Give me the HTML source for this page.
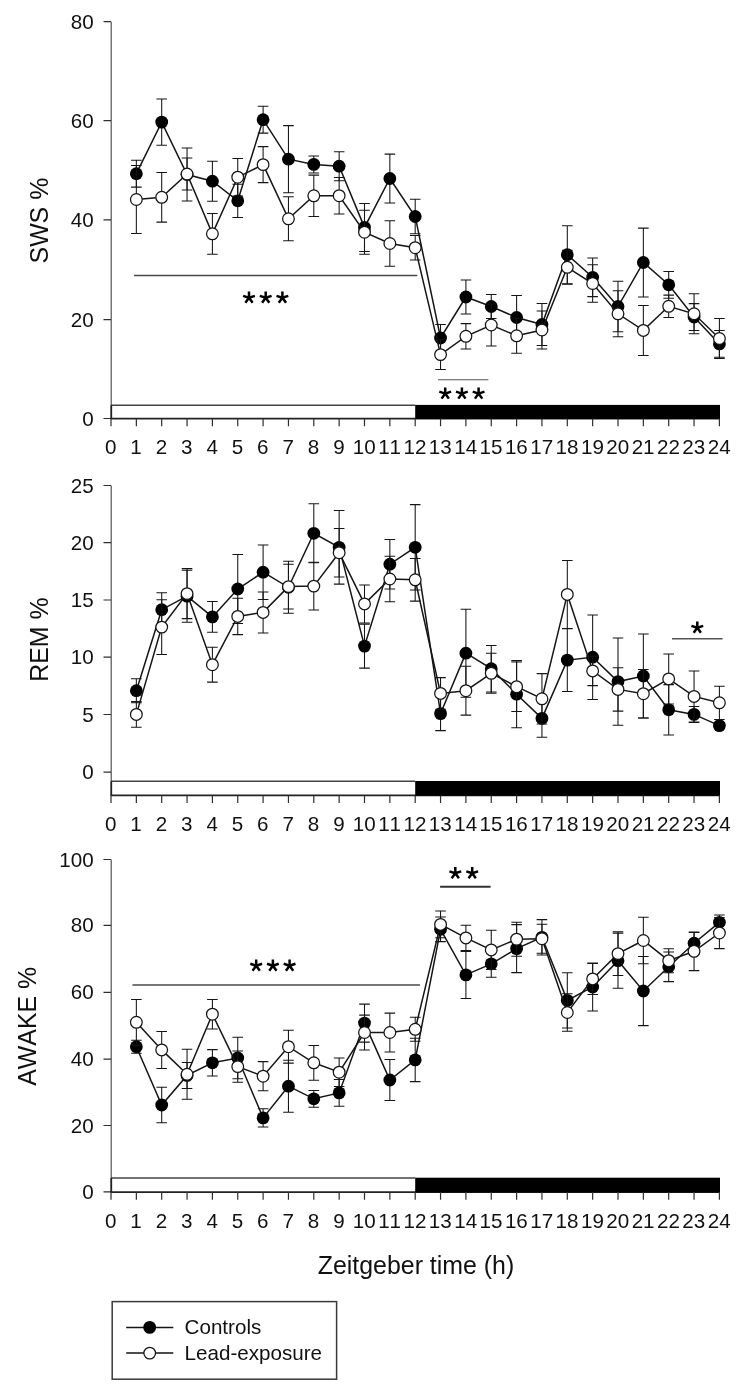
<!DOCTYPE html>
<html><head><meta charset="utf-8"><title>Sleep states across Zeitgeber time</title>
<style>
html,body{margin:0;padding:0;background:#fff}
body{width:745px;height:1397px;overflow:hidden}
svg{display:block;filter:grayscale(1)}
text{font-family:"Liberation Sans",sans-serif;fill:#111;font-kerning:none}
.t{font-size:20.6px}
.a{font-size:24.9px}
</style></head><body>
<svg width="745" height="1397" viewBox="0 0 745 1397">
<rect width="745" height="1397" fill="#fff"/>
<path d="M111.2 21.7V418.6" stroke="#444" stroke-width="1.1" fill="none"/>
<text x="93.6" y="28.7" text-anchor="end" class="t">80</text>
<text x="93.6" y="127.7" text-anchor="end" class="t">60</text>
<text x="93.6" y="226.9" text-anchor="end" class="t">40</text>
<text x="93.6" y="326.6" text-anchor="end" class="t">20</text>
<text x="93.6" y="425.5" text-anchor="end" class="t">0</text>
<path d="M103.5 21.7H111M103.5 120.7H111M103.5 219.9H111M103.5 319.6H111M103.5 418.5H111" stroke="#2e2e2e" stroke-width="1.2" fill="none"/>
<path d="M111 405.2H415.2" stroke="#444" stroke-width="1.4" fill="none"/>
<path d="M111.3 405.2V418.6" stroke="#222" stroke-width="1.7" fill="none"/>
<path d="M110.7 418.6H719.4" stroke="#222" stroke-width="1.8" fill="none"/>
<rect x="415.2" y="404.9" width="304.8" height="14.1" fill="#000"/>
<text x="110.75" y="454.4" text-anchor="middle" class="t">0</text>
<text x="136.1" y="454.4" text-anchor="middle" class="t">1</text>
<text x="161.45" y="454.4" text-anchor="middle" class="t">2</text>
<text x="186.8" y="454.4" text-anchor="middle" class="t">3</text>
<text x="212.15" y="454.4" text-anchor="middle" class="t">4</text>
<text x="237.5" y="454.4" text-anchor="middle" class="t">5</text>
<text x="262.85" y="454.4" text-anchor="middle" class="t">6</text>
<text x="288.2" y="454.4" text-anchor="middle" class="t">7</text>
<text x="313.55" y="454.4" text-anchor="middle" class="t">8</text>
<text x="338.9" y="454.4" text-anchor="middle" class="t">9</text>
<text x="364.25" y="454.4" text-anchor="middle" class="t">10</text>
<text x="389.6" y="454.4" text-anchor="middle" class="t">11</text>
<text x="414.95" y="454.4" text-anchor="middle" class="t">12</text>
<text x="440.3" y="454.4" text-anchor="middle" class="t">13</text>
<text x="465.65" y="454.4" text-anchor="middle" class="t">14</text>
<text x="491" y="454.4" text-anchor="middle" class="t">15</text>
<text x="516.35" y="454.4" text-anchor="middle" class="t">16</text>
<text x="541.7" y="454.4" text-anchor="middle" class="t">17</text>
<text x="567.05" y="454.4" text-anchor="middle" class="t">18</text>
<text x="592.4" y="454.4" text-anchor="middle" class="t">19</text>
<text x="617.75" y="454.4" text-anchor="middle" class="t">20</text>
<text x="643.1" y="454.4" text-anchor="middle" class="t">21</text>
<text x="668.45" y="454.4" text-anchor="middle" class="t">22</text>
<text x="693.8" y="454.4" text-anchor="middle" class="t">23</text>
<text x="719.15" y="454.4" text-anchor="middle" class="t">24</text>
<path d="M111 418.6V426.2M136.35 418.6V426.2M161.7 418.6V426.2M187.05 418.6V426.2M212.4 418.6V426.2M237.75 418.6V426.2M263.1 418.6V426.2M288.45 418.6V426.2M313.8 418.6V426.2M339.15 418.6V426.2M364.5 418.6V426.2M389.85 418.6V426.2M415.2 418.6V426.2M440.55 418.6V426.2M465.9 418.6V426.2M491.25 418.6V426.2M516.6 418.6V426.2M541.95 418.6V426.2M567.3 418.6V426.2M592.65 418.6V426.2M618 418.6V426.2M643.35 418.6V426.2M668.7 418.6V426.2M694.05 418.6V426.2M719.4 418.6V426.2" stroke="#2e2e2e" stroke-width="1.2" fill="none"/>
<text transform="translate(47.6 220.6) rotate(-90)" text-anchor="middle" class="a">SWS %</text>
<path d="M136.35 160.3V187.1M131.05 160.3H141.65M131.05 187.1H141.65M161.7 98.9V145.3M156.4 98.9H167M156.4 145.3H167M187.05 148V201M181.75 148H192.35M181.75 201H192.35M212.4 161.2V201.2M207.1 161.2H217.7M207.1 201.2H217.7M237.75 184.2V217.4M232.45 184.2H243.05M232.45 217.4H243.05M263.1 106.3V133.1M257.8 106.3H268.4M257.8 133.1H268.4M288.45 125.6V192.8M283.15 125.6H293.75M283.15 192.8H293.75M313.8 155.9V172.9M308.5 155.9H319.1M308.5 172.9H319.1M339.15 151.7V180.7M333.85 151.7H344.45M333.85 180.7H344.45M364.5 203.4V251.4M359.2 203.4H369.8M359.2 251.4H369.8M389.85 154.1V202.9M384.55 154.1H395.15M384.55 202.9H395.15M415.2 199.3V233.7M409.9 199.3H420.5M409.9 233.7H420.5M440.55 324.5V351.5M435.25 324.5H445.85M435.25 351.5H445.85M465.9 280V314M460.6 280H471.2M460.6 314H471.2M491.25 294.5V318.5M485.95 294.5H496.55M485.95 318.5H496.55M516.6 295.5V339.5M511.3 295.5H521.9M511.3 339.5H521.9M541.95 303.5V345.5M536.65 303.5H547.25M536.65 345.5H547.25M567.3 225.7V283.7M562 225.7H572.6M562 283.7H572.6M592.65 258V296.6M587.35 258H597.95M587.35 296.6H597.95M618 281.2V331.8M612.7 281.2H623.3M612.7 331.8H623.3M643.35 228.1V296.9M638.05 228.1H648.65M638.05 296.9H648.65M668.7 271.4V298.2M663.4 271.4H674M663.4 298.2H674M694.05 303.6V330.4M688.75 303.6H699.35M688.75 330.4H699.35M719.4 330.5V357.3M714.1 330.5H724.7M714.1 357.3H724.7" fill="none" stroke="#151515" stroke-width="1.05"/>
<polyline points="136.35,173.7 161.7,122.1 187.05,174.5 212.4,181.2 237.75,200.8 263.1,119.7 288.45,159.2 313.8,164.4 339.15,166.2 364.5,227.4 389.85,178.5 415.2,216.5 440.55,338 465.9,297 491.25,306.5 516.6,317.5 541.95,324.5 567.3,254.7 592.65,277.3 618,306.5 643.35,262.5 668.7,284.8 694.05,317 719.4,343.9" fill="none" stroke="#151515" stroke-width="1.5"/>
<circle cx="136.35" cy="173.7" r="6.4" fill="#000"/>
<circle cx="161.7" cy="122.1" r="6.4" fill="#000"/>
<circle cx="187.05" cy="174.5" r="6.4" fill="#000"/>
<circle cx="212.4" cy="181.2" r="6.4" fill="#000"/>
<circle cx="237.75" cy="200.8" r="6.4" fill="#000"/>
<circle cx="263.1" cy="119.7" r="6.4" fill="#000"/>
<circle cx="288.45" cy="159.2" r="6.4" fill="#000"/>
<circle cx="313.8" cy="164.4" r="6.4" fill="#000"/>
<circle cx="339.15" cy="166.2" r="6.4" fill="#000"/>
<circle cx="364.5" cy="227.4" r="6.4" fill="#000"/>
<circle cx="389.85" cy="178.5" r="6.4" fill="#000"/>
<circle cx="415.2" cy="216.5" r="6.4" fill="#000"/>
<circle cx="440.55" cy="338" r="6.4" fill="#000"/>
<circle cx="465.9" cy="297" r="6.4" fill="#000"/>
<circle cx="491.25" cy="306.5" r="6.4" fill="#000"/>
<circle cx="516.6" cy="317.5" r="6.4" fill="#000"/>
<circle cx="541.95" cy="324.5" r="6.4" fill="#000"/>
<circle cx="567.3" cy="254.7" r="6.4" fill="#000"/>
<circle cx="592.65" cy="277.3" r="6.4" fill="#000"/>
<circle cx="618" cy="306.5" r="6.4" fill="#000"/>
<circle cx="643.35" cy="262.5" r="6.4" fill="#000"/>
<circle cx="668.7" cy="284.8" r="6.4" fill="#000"/>
<circle cx="694.05" cy="317" r="6.4" fill="#000"/>
<circle cx="719.4" cy="343.9" r="6.4" fill="#000"/>
<path d="M136.35 165.5V233.5M131.05 165.5H141.65M131.05 233.5H141.65M161.7 172.5V222.1M156.4 172.5H167M156.4 222.1H167M187.05 158V190M181.75 158H192.35M181.75 190H192.35M212.4 213.4V254.2M207.1 213.4H217.7M207.1 254.2H217.7M237.75 158.4V196M232.45 158.4H243.05M232.45 196H243.05M263.1 146.6V182.6M257.8 146.6H268.4M257.8 182.6H268.4M288.45 196.8V240.8M283.15 196.8H293.75M283.15 240.8H293.75M313.8 175.1V216.5M308.5 175.1H319.1M308.5 216.5H319.1M339.15 177.4V214M333.85 177.4H344.45M333.85 214H344.45M364.5 210.2V254.2M359.2 210.2H369.8M359.2 254.2H369.8M389.85 220.7V266.3M384.55 220.7H395.15M384.55 266.3H395.15M415.2 235.4V260M409.9 235.4H420.5M409.9 260H420.5M440.55 339.8V369.4M435.25 339.8H445.85M435.25 369.4H445.85M465.9 323.6V349M460.6 323.6H471.2M460.6 349H471.2M491.25 304V346M485.95 304H496.55M485.95 346H496.55M516.6 318.3V353.3M511.3 318.3H521.9M511.3 353.3H521.9M541.95 311V349M536.65 311H547.25M536.65 349H547.25M567.3 250.3V284.3M562 250.3H572.6M562 284.3H572.6M592.65 264.7V302.3M587.35 264.7H597.95M587.35 302.3H597.95M618 290.8V336.8M612.7 290.8H623.3M612.7 336.8H623.3M643.35 305.4V355.4M638.05 305.4H648.65M638.05 355.4H648.65M668.7 295.1V317.5M663.4 295.1H674M663.4 317.5H674M694.05 293.8V333.8M688.75 293.8H699.35M688.75 333.8H699.35M719.4 318.5V358.5M714.1 318.5H724.7M714.1 358.5H724.7" fill="none" stroke="#151515" stroke-width="1.05"/>
<polyline points="136.35,199.5 161.7,197.3 187.05,174 212.4,233.8 237.75,177.2 263.1,164.6 288.45,218.8 313.8,195.8 339.15,195.7 364.5,232.2 389.85,243.5 415.2,247.7 440.55,354.6 465.9,336.3 491.25,325 516.6,335.8 541.95,330 567.3,267.3 592.65,283.5 618,313.8 643.35,330.4 668.7,306.3 694.05,313.8 719.4,338.5" fill="none" stroke="#151515" stroke-width="1.5"/>
<circle cx="136.35" cy="199.5" r="5.85" fill="#fff" stroke="#151515" stroke-width="1.25"/>
<circle cx="161.7" cy="197.3" r="5.85" fill="#fff" stroke="#151515" stroke-width="1.25"/>
<circle cx="187.05" cy="174" r="5.85" fill="#fff" stroke="#151515" stroke-width="1.25"/>
<circle cx="212.4" cy="233.8" r="5.85" fill="#fff" stroke="#151515" stroke-width="1.25"/>
<circle cx="237.75" cy="177.2" r="5.85" fill="#fff" stroke="#151515" stroke-width="1.25"/>
<circle cx="263.1" cy="164.6" r="5.85" fill="#fff" stroke="#151515" stroke-width="1.25"/>
<circle cx="288.45" cy="218.8" r="5.85" fill="#fff" stroke="#151515" stroke-width="1.25"/>
<circle cx="313.8" cy="195.8" r="5.85" fill="#fff" stroke="#151515" stroke-width="1.25"/>
<circle cx="339.15" cy="195.7" r="5.85" fill="#fff" stroke="#151515" stroke-width="1.25"/>
<circle cx="364.5" cy="232.2" r="5.85" fill="#fff" stroke="#151515" stroke-width="1.25"/>
<circle cx="389.85" cy="243.5" r="5.85" fill="#fff" stroke="#151515" stroke-width="1.25"/>
<circle cx="415.2" cy="247.7" r="5.85" fill="#fff" stroke="#151515" stroke-width="1.25"/>
<circle cx="440.55" cy="354.6" r="5.85" fill="#fff" stroke="#151515" stroke-width="1.25"/>
<circle cx="465.9" cy="336.3" r="5.85" fill="#fff" stroke="#151515" stroke-width="1.25"/>
<circle cx="491.25" cy="325" r="5.85" fill="#fff" stroke="#151515" stroke-width="1.25"/>
<circle cx="516.6" cy="335.8" r="5.85" fill="#fff" stroke="#151515" stroke-width="1.25"/>
<circle cx="541.95" cy="330" r="5.85" fill="#fff" stroke="#151515" stroke-width="1.25"/>
<circle cx="567.3" cy="267.3" r="5.85" fill="#fff" stroke="#151515" stroke-width="1.25"/>
<circle cx="592.65" cy="283.5" r="5.85" fill="#fff" stroke="#151515" stroke-width="1.25"/>
<circle cx="618" cy="313.8" r="5.85" fill="#fff" stroke="#151515" stroke-width="1.25"/>
<circle cx="643.35" cy="330.4" r="5.85" fill="#fff" stroke="#151515" stroke-width="1.25"/>
<circle cx="668.7" cy="306.3" r="5.85" fill="#fff" stroke="#151515" stroke-width="1.25"/>
<circle cx="694.05" cy="313.8" r="5.85" fill="#fff" stroke="#151515" stroke-width="1.25"/>
<circle cx="719.4" cy="338.5" r="5.85" fill="#fff" stroke="#151515" stroke-width="1.25"/>
<path d="M111.2 485.5V795.4" stroke="#444" stroke-width="1.1" fill="none"/>
<text x="93.6" y="492.5" text-anchor="end" class="t">25</text>
<text x="93.6" y="549.7" text-anchor="end" class="t">20</text>
<text x="93.6" y="607" text-anchor="end" class="t">15</text>
<text x="93.6" y="664.2" text-anchor="end" class="t">10</text>
<text x="93.6" y="721.5" text-anchor="end" class="t">5</text>
<text x="93.6" y="779.2" text-anchor="end" class="t">0</text>
<path d="M103.5 485.5H111M103.5 542.7H111M103.5 600H111M103.5 657.2H111M103.5 714.5H111M103.5 772.2H111" stroke="#2e2e2e" stroke-width="1.2" fill="none"/>
<path d="M111 781.3H415.2" stroke="#444" stroke-width="1.4" fill="none"/>
<path d="M111.3 781.3V795.4" stroke="#222" stroke-width="1.7" fill="none"/>
<path d="M110.7 795.4H719.4" stroke="#222" stroke-width="1.8" fill="none"/>
<rect x="415.2" y="781" width="304.8" height="14.8" fill="#000"/>
<text x="110.75" y="831.2" text-anchor="middle" class="t">0</text>
<text x="136.1" y="831.2" text-anchor="middle" class="t">1</text>
<text x="161.45" y="831.2" text-anchor="middle" class="t">2</text>
<text x="186.8" y="831.2" text-anchor="middle" class="t">3</text>
<text x="212.15" y="831.2" text-anchor="middle" class="t">4</text>
<text x="237.5" y="831.2" text-anchor="middle" class="t">5</text>
<text x="262.85" y="831.2" text-anchor="middle" class="t">6</text>
<text x="288.2" y="831.2" text-anchor="middle" class="t">7</text>
<text x="313.55" y="831.2" text-anchor="middle" class="t">8</text>
<text x="338.9" y="831.2" text-anchor="middle" class="t">9</text>
<text x="364.25" y="831.2" text-anchor="middle" class="t">10</text>
<text x="389.6" y="831.2" text-anchor="middle" class="t">11</text>
<text x="414.95" y="831.2" text-anchor="middle" class="t">12</text>
<text x="440.3" y="831.2" text-anchor="middle" class="t">13</text>
<text x="465.65" y="831.2" text-anchor="middle" class="t">14</text>
<text x="491" y="831.2" text-anchor="middle" class="t">15</text>
<text x="516.35" y="831.2" text-anchor="middle" class="t">16</text>
<text x="541.7" y="831.2" text-anchor="middle" class="t">17</text>
<text x="567.05" y="831.2" text-anchor="middle" class="t">18</text>
<text x="592.4" y="831.2" text-anchor="middle" class="t">19</text>
<text x="617.75" y="831.2" text-anchor="middle" class="t">20</text>
<text x="643.1" y="831.2" text-anchor="middle" class="t">21</text>
<text x="668.45" y="831.2" text-anchor="middle" class="t">22</text>
<text x="693.8" y="831.2" text-anchor="middle" class="t">23</text>
<text x="719.15" y="831.2" text-anchor="middle" class="t">24</text>
<path d="M111 795.4V803M136.35 795.4V803M161.7 795.4V803M187.05 795.4V803M212.4 795.4V803M237.75 795.4V803M263.1 795.4V803M288.45 795.4V803M313.8 795.4V803M339.15 795.4V803M364.5 795.4V803M389.85 795.4V803M415.2 795.4V803M440.55 795.4V803M465.9 795.4V803M491.25 795.4V803M516.6 795.4V803M541.95 795.4V803M567.3 795.4V803M592.65 795.4V803M618 795.4V803M643.35 795.4V803M668.7 795.4V803M694.05 795.4V803M719.4 795.4V803" stroke="#2e2e2e" stroke-width="1.2" fill="none"/>
<text transform="translate(47.6 639.6) rotate(-90)" text-anchor="middle" class="a">REM %</text>
<path d="M136.35 678.7V702.7M131.05 678.7H141.65M131.05 702.7H141.65M161.7 592.7V626.7M156.4 592.7H167M156.4 626.7H167M187.05 570.2V622.2M181.75 570.2H192.35M181.75 622.2H192.35M212.4 601.5V632.3M207.1 601.5H217.7M207.1 632.3H217.7M237.75 554.5V623.5M232.45 554.5H243.05M232.45 623.5H243.05M263.1 544.9V599.5M257.8 544.9H268.4M257.8 599.5H268.4M288.45 561.3V613.3M283.15 561.3H293.75M283.15 613.3H293.75M313.8 503.8V562.8M308.5 503.8H319.1M308.5 562.8H319.1M339.15 510.5V584.1M333.85 510.5H344.45M333.85 584.1H344.45M364.5 624.1V668.1M359.2 624.1H369.8M359.2 668.1H369.8M389.85 539.5V588.9M384.55 539.5H395.15M384.55 588.9H395.15M415.2 504.6V590M409.9 504.6H420.5M409.9 590H420.5M440.55 696.6V730.6M435.25 696.6H445.85M435.25 730.6H445.85M465.9 609.2V697.2M460.6 609.2H471.2M460.6 697.2H471.2M491.25 645.4V692M485.95 645.4H496.55M485.95 692H496.55M516.6 660.6V727.8M511.3 660.6H521.9M511.3 727.8H521.9M541.95 699.6V737.2M536.65 699.6H547.25M536.65 737.2H547.25M567.3 628.7V691.5M562 628.7H572.6M562 691.5H572.6M592.65 615V699.4M587.35 615H597.95M587.35 699.4H597.95M618 637.9V725.3M612.7 637.9H623.3M612.7 725.3H623.3M643.35 634V718M638.05 634H648.65M638.05 718H648.65M668.7 684.6V735M663.4 684.6H674M663.4 735H674M694.05 706.4V722.4M688.75 706.4H699.35M688.75 722.4H699.35M719.4 722.6V728.6M714.1 722.6H724.7M714.1 728.6H724.7" fill="none" stroke="#151515" stroke-width="1.05"/>
<polyline points="136.35,690.7 161.7,609.7 187.05,596.2 212.4,616.9 237.75,589 263.1,572.2 288.45,587.3 313.8,533.3 339.15,547.3 364.5,646.1 389.85,564.2 415.2,547.3 440.55,713.6 465.9,653.2 491.25,668.7 516.6,694.2 541.95,718.4 567.3,660.1 592.65,657.2 618,681.6 643.35,676 668.7,709.8 694.05,714.4 719.4,725.6" fill="none" stroke="#151515" stroke-width="1.5"/>
<circle cx="136.35" cy="690.7" r="6.4" fill="#000"/>
<circle cx="161.7" cy="609.7" r="6.4" fill="#000"/>
<circle cx="187.05" cy="596.2" r="6.4" fill="#000"/>
<circle cx="212.4" cy="616.9" r="6.4" fill="#000"/>
<circle cx="237.75" cy="589" r="6.4" fill="#000"/>
<circle cx="263.1" cy="572.2" r="6.4" fill="#000"/>
<circle cx="288.45" cy="587.3" r="6.4" fill="#000"/>
<circle cx="313.8" cy="533.3" r="6.4" fill="#000"/>
<circle cx="339.15" cy="547.3" r="6.4" fill="#000"/>
<circle cx="364.5" cy="646.1" r="6.4" fill="#000"/>
<circle cx="389.85" cy="564.2" r="6.4" fill="#000"/>
<circle cx="415.2" cy="547.3" r="6.4" fill="#000"/>
<circle cx="440.55" cy="713.6" r="6.4" fill="#000"/>
<circle cx="465.9" cy="653.2" r="6.4" fill="#000"/>
<circle cx="491.25" cy="668.7" r="6.4" fill="#000"/>
<circle cx="516.6" cy="694.2" r="6.4" fill="#000"/>
<circle cx="541.95" cy="718.4" r="6.4" fill="#000"/>
<circle cx="567.3" cy="660.1" r="6.4" fill="#000"/>
<circle cx="592.65" cy="657.2" r="6.4" fill="#000"/>
<circle cx="618" cy="681.6" r="6.4" fill="#000"/>
<circle cx="643.35" cy="676" r="6.4" fill="#000"/>
<circle cx="668.7" cy="709.8" r="6.4" fill="#000"/>
<circle cx="694.05" cy="714.4" r="6.4" fill="#000"/>
<circle cx="719.4" cy="725.6" r="6.4" fill="#000"/>
<path d="M136.35 701.6V727.2M131.05 701.6H141.65M131.05 727.2H141.65M161.7 599.7V654.5M156.4 599.7H167M156.4 654.5H167M187.05 568.6V618.6M181.75 568.6H192.35M181.75 618.6H192.35M212.4 647.3V682.1M207.1 647.3H217.7M207.1 682.1H217.7M237.75 598.2V634.6M232.45 598.2H243.05M232.45 634.6H243.05M263.1 591.9V632.9M257.8 591.9H268.4M257.8 632.9H268.4M288.45 564.3V608.9M283.15 564.3H293.75M283.15 608.9H293.75M313.8 562.2V610M308.5 562.2H319.1M308.5 610H319.1M339.15 528.5V576.9M333.85 528.5H344.45M333.85 576.9H344.45M364.5 584.9V622.9M359.2 584.9H369.8M359.2 622.9H369.8M389.85 556.2V601.8M384.55 556.2H395.15M384.55 601.8H395.15M415.2 558.5V601.1M409.9 558.5H420.5M409.9 601.1H420.5M440.55 677.6V709.2M435.25 677.6H445.85M435.25 709.2H445.85M465.9 666.3V715.1M460.6 666.3H471.2M460.6 715.1H471.2M491.25 653.3V693.3M485.95 653.3H496.55M485.95 693.3H496.55M516.6 662V711.4M511.3 662H521.9M511.3 711.4H521.9M541.95 673.6V724M536.65 673.6H547.25M536.65 724H547.25M567.3 560.4V628.4M562 560.4H572.6M562 628.4H572.6M592.65 656.2V685.6M587.35 656.2H597.95M587.35 685.6H597.95M618 667.7V711.1M612.7 667.7H623.3M612.7 711.1H623.3M643.35 669.5V717.9M638.05 669.5H648.65M638.05 717.9H648.65M668.7 653.9V703.9M663.4 653.9H674M663.4 703.9H674M694.05 670.9V721.9M688.75 670.9H699.35M688.75 721.9H699.35M719.4 686.2V719.4M714.1 686.2H724.7M714.1 719.4H724.7" fill="none" stroke="#151515" stroke-width="1.05"/>
<polyline points="136.35,714.4 161.7,627.1 187.05,593.6 212.4,664.7 237.75,616.4 263.1,612.4 288.45,586.6 313.8,586.1 339.15,552.7 364.5,603.9 389.85,579 415.2,579.8 440.55,693.4 465.9,690.7 491.25,673.3 516.6,686.7 541.95,698.8 567.3,594.4 592.65,670.9 618,689.4 643.35,693.7 668.7,678.9 694.05,696.4 719.4,702.8" fill="none" stroke="#151515" stroke-width="1.5"/>
<circle cx="136.35" cy="714.4" r="5.85" fill="#fff" stroke="#151515" stroke-width="1.25"/>
<circle cx="161.7" cy="627.1" r="5.85" fill="#fff" stroke="#151515" stroke-width="1.25"/>
<circle cx="187.05" cy="593.6" r="5.85" fill="#fff" stroke="#151515" stroke-width="1.25"/>
<circle cx="212.4" cy="664.7" r="5.85" fill="#fff" stroke="#151515" stroke-width="1.25"/>
<circle cx="237.75" cy="616.4" r="5.85" fill="#fff" stroke="#151515" stroke-width="1.25"/>
<circle cx="263.1" cy="612.4" r="5.85" fill="#fff" stroke="#151515" stroke-width="1.25"/>
<circle cx="288.45" cy="586.6" r="5.85" fill="#fff" stroke="#151515" stroke-width="1.25"/>
<circle cx="313.8" cy="586.1" r="5.85" fill="#fff" stroke="#151515" stroke-width="1.25"/>
<circle cx="339.15" cy="552.7" r="5.85" fill="#fff" stroke="#151515" stroke-width="1.25"/>
<circle cx="364.5" cy="603.9" r="5.85" fill="#fff" stroke="#151515" stroke-width="1.25"/>
<circle cx="389.85" cy="579" r="5.85" fill="#fff" stroke="#151515" stroke-width="1.25"/>
<circle cx="415.2" cy="579.8" r="5.85" fill="#fff" stroke="#151515" stroke-width="1.25"/>
<circle cx="440.55" cy="693.4" r="5.85" fill="#fff" stroke="#151515" stroke-width="1.25"/>
<circle cx="465.9" cy="690.7" r="5.85" fill="#fff" stroke="#151515" stroke-width="1.25"/>
<circle cx="491.25" cy="673.3" r="5.85" fill="#fff" stroke="#151515" stroke-width="1.25"/>
<circle cx="516.6" cy="686.7" r="5.85" fill="#fff" stroke="#151515" stroke-width="1.25"/>
<circle cx="541.95" cy="698.8" r="5.85" fill="#fff" stroke="#151515" stroke-width="1.25"/>
<circle cx="567.3" cy="594.4" r="5.85" fill="#fff" stroke="#151515" stroke-width="1.25"/>
<circle cx="592.65" cy="670.9" r="5.85" fill="#fff" stroke="#151515" stroke-width="1.25"/>
<circle cx="618" cy="689.4" r="5.85" fill="#fff" stroke="#151515" stroke-width="1.25"/>
<circle cx="643.35" cy="693.7" r="5.85" fill="#fff" stroke="#151515" stroke-width="1.25"/>
<circle cx="668.7" cy="678.9" r="5.85" fill="#fff" stroke="#151515" stroke-width="1.25"/>
<circle cx="694.05" cy="696.4" r="5.85" fill="#fff" stroke="#151515" stroke-width="1.25"/>
<circle cx="719.4" cy="702.8" r="5.85" fill="#fff" stroke="#151515" stroke-width="1.25"/>
<path d="M111.2 859.5V1192.1" stroke="#444" stroke-width="1.1" fill="none"/>
<text x="93.6" y="866.5" text-anchor="end" class="t">100</text>
<text x="93.6" y="932.4" text-anchor="end" class="t">80</text>
<text x="93.6" y="999.3" text-anchor="end" class="t">60</text>
<text x="93.6" y="1066.1" text-anchor="end" class="t">40</text>
<text x="93.6" y="1132.5" text-anchor="end" class="t">20</text>
<text x="93.6" y="1198.9" text-anchor="end" class="t">0</text>
<path d="M103.5 859.5H111M103.5 925.4H111M103.5 992.3H111M103.5 1059.1H111M103.5 1125.5H111M103.5 1191.9H111" stroke="#2e2e2e" stroke-width="1.2" fill="none"/>
<path d="M111 1178H415.2" stroke="#444" stroke-width="1.4" fill="none"/>
<path d="M111.3 1178V1192.1" stroke="#222" stroke-width="1.7" fill="none"/>
<path d="M110.7 1192.1H719.4" stroke="#222" stroke-width="1.8" fill="none"/>
<rect x="415.2" y="1177.7" width="304.8" height="14.8" fill="#000"/>
<text x="110.75" y="1227.9" text-anchor="middle" class="t">0</text>
<text x="136.1" y="1227.9" text-anchor="middle" class="t">1</text>
<text x="161.45" y="1227.9" text-anchor="middle" class="t">2</text>
<text x="186.8" y="1227.9" text-anchor="middle" class="t">3</text>
<text x="212.15" y="1227.9" text-anchor="middle" class="t">4</text>
<text x="237.5" y="1227.9" text-anchor="middle" class="t">5</text>
<text x="262.85" y="1227.9" text-anchor="middle" class="t">6</text>
<text x="288.2" y="1227.9" text-anchor="middle" class="t">7</text>
<text x="313.55" y="1227.9" text-anchor="middle" class="t">8</text>
<text x="338.9" y="1227.9" text-anchor="middle" class="t">9</text>
<text x="364.25" y="1227.9" text-anchor="middle" class="t">10</text>
<text x="389.6" y="1227.9" text-anchor="middle" class="t">11</text>
<text x="414.95" y="1227.9" text-anchor="middle" class="t">12</text>
<text x="440.3" y="1227.9" text-anchor="middle" class="t">13</text>
<text x="465.65" y="1227.9" text-anchor="middle" class="t">14</text>
<text x="491" y="1227.9" text-anchor="middle" class="t">15</text>
<text x="516.35" y="1227.9" text-anchor="middle" class="t">16</text>
<text x="541.7" y="1227.9" text-anchor="middle" class="t">17</text>
<text x="567.05" y="1227.9" text-anchor="middle" class="t">18</text>
<text x="592.4" y="1227.9" text-anchor="middle" class="t">19</text>
<text x="617.75" y="1227.9" text-anchor="middle" class="t">20</text>
<text x="643.1" y="1227.9" text-anchor="middle" class="t">21</text>
<text x="668.45" y="1227.9" text-anchor="middle" class="t">22</text>
<text x="693.8" y="1227.9" text-anchor="middle" class="t">23</text>
<text x="719.15" y="1227.9" text-anchor="middle" class="t">24</text>
<path d="M111 1192.1V1199.7M136.35 1192.1V1199.7M161.7 1192.1V1199.7M187.05 1192.1V1199.7M212.4 1192.1V1199.7M237.75 1192.1V1199.7M263.1 1192.1V1199.7M288.45 1192.1V1199.7M313.8 1192.1V1199.7M339.15 1192.1V1199.7M364.5 1192.1V1199.7M389.85 1192.1V1199.7M415.2 1192.1V1199.7M440.55 1192.1V1199.7M465.9 1192.1V1199.7M491.25 1192.1V1199.7M516.6 1192.1V1199.7M541.95 1192.1V1199.7M567.3 1192.1V1199.7M592.65 1192.1V1199.7M618 1192.1V1199.7M643.35 1192.1V1199.7M668.7 1192.1V1199.7M694.05 1192.1V1199.7M719.4 1192.1V1199.7" stroke="#2e2e2e" stroke-width="1.2" fill="none"/>
<text transform="translate(36.2 1026.3) rotate(-90)" text-anchor="middle" class="a">AWAKE %</text>
<path d="M136.35 1040.2V1053.2M131.05 1040.2H141.65M131.05 1053.2H141.65M161.7 1087.3V1122.7M156.4 1087.3H167M156.4 1122.7H167M187.05 1062.4V1088.4M181.75 1062.4H192.35M181.75 1088.4H192.35M212.4 1049.6V1076M207.1 1049.6H217.7M207.1 1076H217.7M237.75 1037.3V1078.7M232.45 1037.3H243.05M232.45 1078.7H243.05M263.1 1108.8V1127M257.8 1108.8H268.4M257.8 1127H268.4M288.45 1060.2V1112.2M283.15 1060.2H293.75M283.15 1112.2H293.75M313.8 1090.4V1107.2M308.5 1090.4H319.1M308.5 1107.2H319.1M339.15 1079.5V1106.3M333.85 1079.5H344.45M333.85 1106.3H344.45M364.5 1004.1V1042.1M359.2 1004.1H369.8M359.2 1042.1H369.8M389.85 1059.5V1100.5M384.55 1059.5H395.15M384.55 1100.5H395.15M415.2 1038.2V1081.6M409.9 1038.2H420.5M409.9 1081.6H420.5M440.55 917V941.6M435.25 917H445.85M435.25 941.6H445.85M465.9 951.4V998.4M460.6 951.4H471.2M460.6 998.4H471.2M491.25 950.5V977.3M485.95 950.5H496.55M485.95 977.3H496.55M516.6 924.6V972.6M511.3 924.6H521.9M511.3 972.6H521.9M541.95 919.6V955M536.65 919.6H547.25M536.65 955H547.25M567.3 972.8V1028M562 972.8H572.6M562 1028H572.6M592.65 963V1011M587.35 963H597.95M587.35 1011H597.95M618 933.1V988.3M612.7 933.1H623.3M612.7 988.3H623.3M643.35 956.4V1025.6M638.05 956.4H648.65M638.05 1025.6H648.65M668.7 952V981.6M663.4 952H674M663.4 981.6H674M694.05 932.5V953.9M688.75 932.5H699.35M688.75 953.9H699.35M719.4 915V929.6M714.1 915H724.7M714.1 929.6H724.7" fill="none" stroke="#151515" stroke-width="1.05"/>
<polyline points="136.35,1046.7 161.7,1105 187.05,1075.4 212.4,1062.8 237.75,1058 263.1,1117.9 288.45,1086.2 313.8,1098.8 339.15,1092.9 364.5,1023.1 389.85,1080 415.2,1059.9 440.55,929.3 465.9,974.9 491.25,963.9 516.6,948.6 541.95,937.3 567.3,1000.4 592.65,987 618,960.7 643.35,991 668.7,966.8 694.05,943.2 719.4,922.3" fill="none" stroke="#151515" stroke-width="1.5"/>
<circle cx="136.35" cy="1046.7" r="6.4" fill="#000"/>
<circle cx="161.7" cy="1105" r="6.4" fill="#000"/>
<circle cx="187.05" cy="1075.4" r="6.4" fill="#000"/>
<circle cx="212.4" cy="1062.8" r="6.4" fill="#000"/>
<circle cx="237.75" cy="1058" r="6.4" fill="#000"/>
<circle cx="263.1" cy="1117.9" r="6.4" fill="#000"/>
<circle cx="288.45" cy="1086.2" r="6.4" fill="#000"/>
<circle cx="313.8" cy="1098.8" r="6.4" fill="#000"/>
<circle cx="339.15" cy="1092.9" r="6.4" fill="#000"/>
<circle cx="364.5" cy="1023.1" r="6.4" fill="#000"/>
<circle cx="389.85" cy="1080" r="6.4" fill="#000"/>
<circle cx="415.2" cy="1059.9" r="6.4" fill="#000"/>
<circle cx="440.55" cy="929.3" r="6.4" fill="#000"/>
<circle cx="465.9" cy="974.9" r="6.4" fill="#000"/>
<circle cx="491.25" cy="963.9" r="6.4" fill="#000"/>
<circle cx="516.6" cy="948.6" r="6.4" fill="#000"/>
<circle cx="541.95" cy="937.3" r="6.4" fill="#000"/>
<circle cx="567.3" cy="1000.4" r="6.4" fill="#000"/>
<circle cx="592.65" cy="987" r="6.4" fill="#000"/>
<circle cx="618" cy="960.7" r="6.4" fill="#000"/>
<circle cx="643.35" cy="991" r="6.4" fill="#000"/>
<circle cx="668.7" cy="966.8" r="6.4" fill="#000"/>
<circle cx="694.05" cy="943.2" r="6.4" fill="#000"/>
<circle cx="719.4" cy="922.3" r="6.4" fill="#000"/>
<path d="M136.35 999.5V1045.1M131.05 999.5H141.65M131.05 1045.1H141.65M161.7 1031.4V1068.4M156.4 1031.4H167M156.4 1068.4H167M187.05 1049.3V1099.3M181.75 1049.3H192.35M181.75 1099.3H192.35M212.4 999.5V1028.9M207.1 999.5H217.7M207.1 1028.9H217.7M237.75 1051V1082.2M232.45 1051H243.05M232.45 1082.2H243.05M263.1 1061.6V1090.8M257.8 1061.6H268.4M257.8 1090.8H268.4M288.45 1030.3V1063.1M283.15 1030.3H293.75M283.15 1063.1H293.75M313.8 1045.4V1080.2M308.5 1045.4H319.1M308.5 1080.2H319.1M339.15 1058V1086.4M333.85 1058H344.45M333.85 1086.4H344.45M364.5 1015.1V1049.9M359.2 1015.1H369.8M359.2 1049.9H369.8M389.85 1013.1V1051.9M384.55 1013.1H395.15M384.55 1051.9H395.15M415.2 1017.3V1041.3M409.9 1017.3H420.5M409.9 1041.3H420.5M440.55 911V937.8M435.25 911H445.85M435.25 937.8H445.85M465.9 925.3V950.5M460.6 925.3H471.2M460.6 950.5H471.2M491.25 930.3V969.5M485.95 930.3H496.55M485.95 969.5H496.55M516.6 922.2V956.2M511.3 922.2H521.9M511.3 956.2H521.9M541.95 924.2V953.2M536.65 924.2H547.25M536.65 953.2H547.25M567.3 993.7V1031.3M562 993.7H572.6M562 1031.3H572.6M592.65 963.4V994.4M587.35 963.4H597.95M587.35 994.4H597.95M618 931.8V975.4M612.7 931.8H623.3M612.7 975.4H623.3M643.35 917.2V963.8M638.05 917.2H648.65M638.05 963.8H648.65M668.7 948.7V972.7M663.4 948.7H674M663.4 972.7H674M694.05 932V970.6M688.75 932H699.35M688.75 970.6H699.35M719.4 917.4V948.6M714.1 917.4H724.7M714.1 948.6H724.7" fill="none" stroke="#151515" stroke-width="1.05"/>
<polyline points="136.35,1022.3 161.7,1049.9 187.05,1074.3 212.4,1014.2 237.75,1066.6 263.1,1076.2 288.45,1046.7 313.8,1062.8 339.15,1072.2 364.5,1032.5 389.85,1032.5 415.2,1029.3 440.55,924.4 465.9,937.9 491.25,949.9 516.6,939.2 541.95,938.7 567.3,1012.5 592.65,978.9 618,953.6 643.35,940.5 668.7,960.7 694.05,951.3 719.4,933" fill="none" stroke="#151515" stroke-width="1.5"/>
<circle cx="136.35" cy="1022.3" r="5.85" fill="#fff" stroke="#151515" stroke-width="1.25"/>
<circle cx="161.7" cy="1049.9" r="5.85" fill="#fff" stroke="#151515" stroke-width="1.25"/>
<circle cx="187.05" cy="1074.3" r="5.85" fill="#fff" stroke="#151515" stroke-width="1.25"/>
<circle cx="212.4" cy="1014.2" r="5.85" fill="#fff" stroke="#151515" stroke-width="1.25"/>
<circle cx="237.75" cy="1066.6" r="5.85" fill="#fff" stroke="#151515" stroke-width="1.25"/>
<circle cx="263.1" cy="1076.2" r="5.85" fill="#fff" stroke="#151515" stroke-width="1.25"/>
<circle cx="288.45" cy="1046.7" r="5.85" fill="#fff" stroke="#151515" stroke-width="1.25"/>
<circle cx="313.8" cy="1062.8" r="5.85" fill="#fff" stroke="#151515" stroke-width="1.25"/>
<circle cx="339.15" cy="1072.2" r="5.85" fill="#fff" stroke="#151515" stroke-width="1.25"/>
<circle cx="364.5" cy="1032.5" r="5.85" fill="#fff" stroke="#151515" stroke-width="1.25"/>
<circle cx="389.85" cy="1032.5" r="5.85" fill="#fff" stroke="#151515" stroke-width="1.25"/>
<circle cx="415.2" cy="1029.3" r="5.85" fill="#fff" stroke="#151515" stroke-width="1.25"/>
<circle cx="440.55" cy="924.4" r="5.85" fill="#fff" stroke="#151515" stroke-width="1.25"/>
<circle cx="465.9" cy="937.9" r="5.85" fill="#fff" stroke="#151515" stroke-width="1.25"/>
<circle cx="491.25" cy="949.9" r="5.85" fill="#fff" stroke="#151515" stroke-width="1.25"/>
<circle cx="516.6" cy="939.2" r="5.85" fill="#fff" stroke="#151515" stroke-width="1.25"/>
<circle cx="541.95" cy="938.7" r="5.85" fill="#fff" stroke="#151515" stroke-width="1.25"/>
<circle cx="567.3" cy="1012.5" r="5.85" fill="#fff" stroke="#151515" stroke-width="1.25"/>
<circle cx="592.65" cy="978.9" r="5.85" fill="#fff" stroke="#151515" stroke-width="1.25"/>
<circle cx="618" cy="953.6" r="5.85" fill="#fff" stroke="#151515" stroke-width="1.25"/>
<circle cx="643.35" cy="940.5" r="5.85" fill="#fff" stroke="#151515" stroke-width="1.25"/>
<circle cx="668.7" cy="960.7" r="5.85" fill="#fff" stroke="#151515" stroke-width="1.25"/>
<circle cx="694.05" cy="951.3" r="5.85" fill="#fff" stroke="#151515" stroke-width="1.25"/>
<circle cx="719.4" cy="933" r="5.85" fill="#fff" stroke="#151515" stroke-width="1.25"/>
<path d="M134 275.5H417.3" stroke="#4a4a4a" stroke-width="1.7"/>
<path d="M249 297.8L249 291.6M249 297.8L254.9 295.88M249 297.8L252.64 302.82M249 297.8L245.36 302.82M249 297.8L243.1 295.88" stroke="#000" stroke-width="2.5" fill="none"/>
<path d="M265.7 297.8L265.7 291.6M265.7 297.8L271.6 295.88M265.7 297.8L269.34 302.82M265.7 297.8L262.06 302.82M265.7 297.8L259.8 295.88" stroke="#000" stroke-width="2.5" fill="none"/>
<path d="M282.4 297.8L282.4 291.6M282.4 297.8L288.3 295.88M282.4 297.8L286.04 302.82M282.4 297.8L278.76 302.82M282.4 297.8L276.5 295.88" stroke="#000" stroke-width="2.5" fill="none"/>
<path d="M438 379.7H488.4" stroke="#555" stroke-width="1.1"/>
<path d="M445.2 393.6L445.2 387.4M445.2 393.6L451.1 391.68M445.2 393.6L448.84 398.62M445.2 393.6L441.56 398.62M445.2 393.6L439.3 391.68" stroke="#000" stroke-width="2.5" fill="none"/>
<path d="M461.9 393.6L461.9 387.4M461.9 393.6L467.8 391.68M461.9 393.6L465.54 398.62M461.9 393.6L458.26 398.62M461.9 393.6L456 391.68" stroke="#000" stroke-width="2.5" fill="none"/>
<path d="M478.6 393.6L478.6 387.4M478.6 393.6L484.5 391.68M478.6 393.6L482.24 398.62M478.6 393.6L474.96 398.62M478.6 393.6L472.7 391.68" stroke="#000" stroke-width="2.5" fill="none"/>
<path d="M672 638.7H722.6" stroke="#555" stroke-width="1.4"/>
<path d="M697.3 627.8L697.3 621.6M697.3 627.8L703.2 625.88M697.3 627.8L700.94 632.82M697.3 627.8L693.66 632.82M697.3 627.8L691.4 625.88" stroke="#000" stroke-width="2.5" fill="none"/>
<path d="M132.5 985H420" stroke="#484848" stroke-width="1.35"/>
<path d="M256.2 965.7L256.2 959.5M256.2 965.7L262.1 963.78M256.2 965.7L259.84 970.72M256.2 965.7L252.56 970.72M256.2 965.7L250.3 963.78" stroke="#000" stroke-width="2.5" fill="none"/>
<path d="M272.9 965.7L272.9 959.5M272.9 965.7L278.8 963.78M272.9 965.7L276.54 970.72M272.9 965.7L269.26 970.72M272.9 965.7L267 963.78" stroke="#000" stroke-width="2.5" fill="none"/>
<path d="M289.6 965.7L289.6 959.5M289.6 965.7L295.5 963.78M289.6 965.7L293.24 970.72M289.6 965.7L285.96 970.72M289.6 965.7L283.7 963.78" stroke="#000" stroke-width="2.5" fill="none"/>
<path d="M440.1 886.8H490.6" stroke="#333" stroke-width="2"/>
<path d="M455.3 873.3L455.3 867.1M455.3 873.3L461.2 871.38M455.3 873.3L458.94 878.32M455.3 873.3L451.66 878.32M455.3 873.3L449.4 871.38" stroke="#000" stroke-width="2.5" fill="none"/>
<path d="M472.2 873.3L472.2 867.1M472.2 873.3L478.1 871.38M472.2 873.3L475.84 878.32M472.2 873.3L468.56 878.32M472.2 873.3L466.3 871.38" stroke="#000" stroke-width="2.5" fill="none"/>
<text x="416" y="1274.2" text-anchor="middle" class="a">Zeitgeber time (h)</text>
<rect x="112.2" y="1301.6" width="224.4" height="77.6" fill="#fff" stroke="#3a3a3a" stroke-width="1.5"/>
<path d="M126.2 1327.4H173.3M126.2 1353.1H173.3" stroke="#151515" stroke-width="1.5"/>
<circle cx="149.7" cy="1327.4" r="6.4" fill="#000"/>
<circle cx="149.7" cy="1353.1" r="5.85" fill="#fff" stroke="#151515" stroke-width="1.25"/>
<text x="184.6" y="1334.4" class="t">Controls</text>
<text x="184.6" y="1360.1" class="t">Lead-exposure</text>
</svg>
</body></html>
